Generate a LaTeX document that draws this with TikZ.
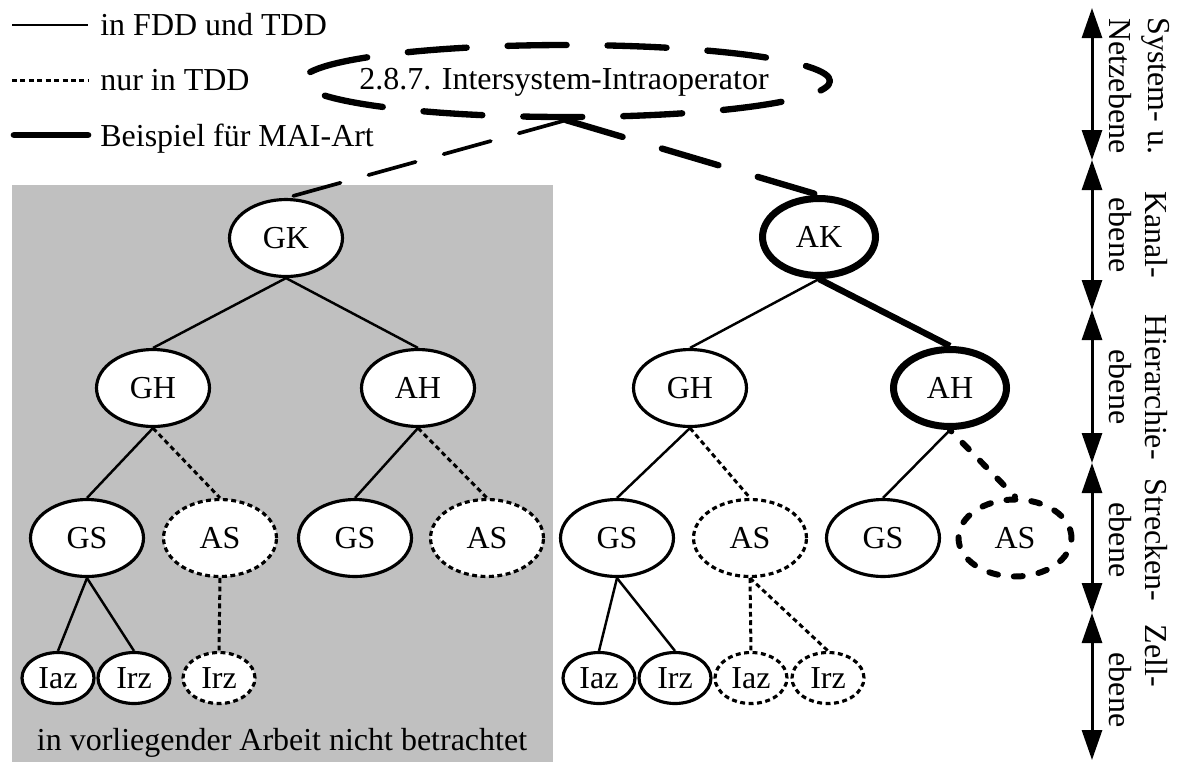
\documentclass[tikz,border=0pt]{standalone}
\usepackage{fontspec}
\setmainfont{Liberation Serif}
\usetikzlibrary{shapes.geometric,arrows.meta}
\definecolor{areagray}{RGB}{192,192,192}
\begin{document}
\begin{tikzpicture}[x=0.02cm,y=-0.02cm,
  font=\fontsize{18.2}{21}\selectfont,
  every node/.style={inner sep=0pt},
  tn/.style={ellipse,draw,fill=white,line width=1.8pt,minimum width=2.26cm,minimum height=1.54cm},
  leaf/.style={ellipse,draw,fill=white,line width=1.8pt,minimum width=1.44cm,minimum height=1.02cm},
  tddnode/.style={dash pattern=on 2.8pt off 2pt},
  mainode/.style={line width=4pt},
  maidashnode/.style={line width=3.4pt,line cap=round,dash pattern=on 5.1pt off 9.1pt},
  edge/.style={line width=1.4pt},
  tdd/.style={line width=1.7pt,dash pattern=on 2.8pt off 2pt},
  mai/.style={line width=3.6pt},
  maidash/.style={line width=3.4pt,line cap=round,dash pattern=on 5.1pt off 9.1pt},
  sysdash/.style={line width=3.6pt,line cap=round,dash pattern=on 33.6pt off 23.3pt},
  systhin/.style={line width=2.1pt,line cap=round,dash pattern=on 27.9pt off 16.5pt},
  axis/.style={line width=1.7pt,{Triangle[length=0.6cm,width=0.4cm]}-{Triangle[length=0.6cm,width=0.4cm]}},
  level/.style={rotate=-90}
]
\useasboundingbox (0,0) rectangle (1184,762);

% area not treated further
\fill[areagray] (12,185) rectangle (553,762);
\node[anchor=base] (note) at (282,750) {in vorliegender Arbeit nicht betrachtet};

% legend
\coordinate (la1) at (12,25);  \coordinate (lb1) at (88,25);
\coordinate (la2) at (12,80);  \coordinate (lb2) at (88,80);
\coordinate (la3) at (14,135); \coordinate (lb3) at (88,135);
\draw[edge] (la1) -- (lb1);
\draw[tdd] (la2) -- (lb2);
\draw[line width=3.8pt,line cap=round] (la3) -- (lb3);
\node[anchor=base west] (lt1) at (100,35) {in FDD und TDD};
\node[anchor=base west] (lt2) at (100,90) {nur in TDD};
\node[anchor=base west] (lt3) at (100,146) {Beispiel für MAI-Art};

% system level
\node[ellipse,sysdash,dash phase=16.8pt,draw,minimum width=10.56cm,minimum height=1.44cm] (sys) at (566,81) {};
\node (systext) at (564,82) {2.8.7. Intersystem-Intraoperator};

% left tree
\node[tn] (gk) at (286,238) {GK};
\node[tn] (gh1) at (153,388) {GH};
\node[tn] (ah1) at (418,388) {AH};
\node[tn] (gs1) at (87,538) {GS};
\node[tn,tddnode] (as1) at (220,538) {AS};
\node[tn] (gs2) at (355,538) {GS};
\node[tn,tddnode] (as2) at (487,538) {AS};
\node[leaf] (iaz1) at (58,678) {Iaz};
\node[leaf] (irz1) at (134,678) {Irz};
\node[leaf,tddnode] (irz2) at (219,678) {Irz};

% right tree
\node[tn,mainode] (ak) at (819,237) {AK};
\node[tn] (gh2) at (690,388) {GH};
\node[tn,mainode] (ah2) at (950,388) {AH};
\node[tn] (gs3) at (617,538) {GS};
\node[tn,tddnode] (as3) at (750,538) {AS};
\node[tn] (gs4) at (883,538) {GS};
\node[tn,maidashnode] (as4) at (1015,538) {AS};
\node[leaf] (iaz3) at (599,678) {Iaz};
\node[leaf] (irz3) at (675,678) {Irz};
\node[leaf,tddnode] (iaz4) at (751,678) {Iaz};
\node[leaf,tddnode] (irz4) at (828,678) {Irz};

% connectors, left tree
\draw[systhin] (sys.south) -- (gk.north);
\draw[edge] (gk.south) -- (gh1.north);
\draw[edge] (gk.south) -- (ah1.north);
\draw[edge] (gh1.south) -- (gs1.north);
\draw[tdd] (gh1.south) -- (as1.north);
\draw[edge] (ah1.south) -- (gs2.north);
\draw[tdd] (ah1.south) -- (as2.north);
\draw[edge] (gs1.south) -- (iaz1.north);
\draw[edge] (gs1.south) -- (irz1.north);
\draw[tdd] (as1.south) -- (irz2.north);

% connectors, right tree
\draw[sysdash] (sys.south) -- (ak.north);
\draw[edge] (ak.south) -- (gh2.north);
\draw[mai] (ak.south) -- (ah2.north);
\draw[edge] (gh2.south) -- (gs3.north);
\draw[tdd] (gh2.south) -- (as3.north);
\draw[edge] (ah2.south) -- (gs4.north);
\draw[maidash,dash phase=4pt] (ah2.south) -- (as4.north);
\draw[edge] (gs3.south) -- (iaz3.north);
\draw[edge] (gs3.south) -- (irz3.north);
\draw[tdd] (as3.south) -- (iaz4.north);
\draw[tdd] (as3.south) -- (irz4.north);

% level axis
\coordinate (a0) at (1092,8);
\coordinate (a1) at (1092,160);
\coordinate (a2) at (1092,310);
\coordinate (a3) at (1092,463);
\coordinate (a4) at (1092,613);
\coordinate (a5) at (1092,760);
\draw[axis] (a0) -- (a1);
\draw[axis] (a1) -- (a2);
\draw[axis] (a2) -- (a3);
\draw[axis] (a3) -- (a4);
\draw[axis] (a4) -- (a5);

\node[level] (v1a) at (1156,86) {System- u.};
\node[level] (v1b) at (1120,86) {Netzebene};
\node[level] (v2a) at (1156,235) {Kanal-};
\node[level] (v2b) at (1120,235) {ebene};
\node[level] (v3a) at (1156,387) {Hierarchie-};
\node[level] (v3b) at (1120,387) {ebene};
\node[level] (v4a) at (1156,540) {Strecken-};
\node[level] (v4b) at (1120,540) {ebene};
\node[level] (v5a) at (1156,656) {Zell-};
\node[level] (v5b) at (1120,690) {ebene};
\end{tikzpicture}
\end{document}
